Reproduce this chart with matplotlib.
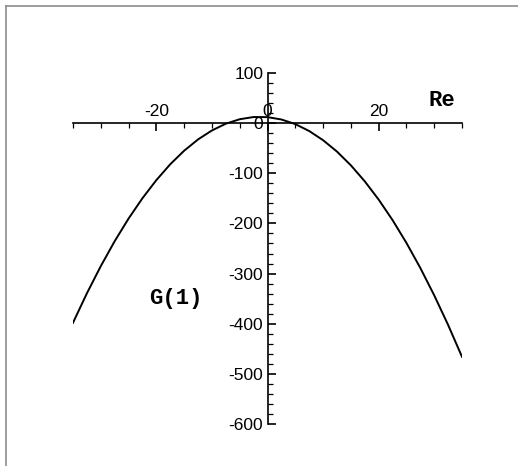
import matplotlib.pyplot as plt
from matplotlib.lines import Line2D
from matplotlib.ticker import MultipleLocator

# G(1) against Re, sampled every 2.5
re = [-35, -32.5, -30, -27.5, -25, -22.5, -20, -17.5, -15, -12.5, -10, -7.5, -5, -2.5,
      0, 2.5, 5, 7.5, 10, 12.5, 15, 17.5, 20, 22.5, 25, 27.5, 30, 32.5, 35]
g1 = [-398.1, -339.4, -285.2, -235.4, -190.3, -149.7, -113.6, -82.0, -55.0, -32.5,
      -14.6, -1.1, 7.8, 12.2, 12.0, 7.3, -1.9, -15.7, -34.0, -56.7, -84.1, -116.0,
      -152.4, -193.3, -238.8, -288.8, -343.4, -402.4, -466.0]

x_ticks = [-20, 0, 20]
y_ticks = [100, 0, -100, -200, -300, -400, -500, -600]

W, H = 518, 466
fig = plt.figure(figsize=(W / 100, H / 100), dpi=100)
ax = fig.add_axes([73 / W, (H - 424) / H, 389 / W, 351 / H])

ax.plot(re, g1, color='black', lw=1.4)
ax.set_xlim(-35, 35)
ax.set_ylim(-600, 100)

# axes cross at the origin
ax.spines['bottom'].set_visible(False)
ax.spines['right'].set_visible(False)
ax.spines['top'].set_position(('data', 0))
ax.spines['left'].set_position(('data', 0))
for s in ('top', 'left'):
    ax.spines[s].set_linewidth(1.2)

ax.xaxis.set_ticks_position('top')
ax.set_xticks(x_ticks)
ax.set_xticklabels([str(v) for v in x_ticks])
ax.xaxis.set_minor_locator(MultipleLocator(5))
ax.set_yticks(y_ticks)
ax.set_yticklabels([str(v) for v in y_ticks])
ax.yaxis.set_minor_locator(MultipleLocator(20))

ax.tick_params(axis='both', which='major', direction='in', length=6, width=1.2,
               labelsize=12.5, pad=3)
ax.tick_params(axis='both', which='minor', direction='in', length=3.5, width=0.9)
for lab in ax.get_xticklabels() + ax.get_yticklabels():
    lab.set_fontfamily('Liberation Sans')

ax.text(31.4, 46, 'Re', fontfamily='Liberation Mono', fontweight='bold',
        fontsize=16, ha='center', va='center')
ax.text(-16.4, -350, 'G(1)', fontfamily='Liberation Mono', fontweight='bold',
        fontsize=16, ha='center', va='center')
ax.patch.set_visible(False)

# thin grey frame on the left and top
fig.add_artist(Line2D([5.5 / W, 5.5 / W], [0, 1 - 6 / H], color='#8c8c8c', lw=1.2,
                      transform=fig.transFigure))
fig.add_artist(Line2D([5.5 / W, 1], [1 - 6 / H, 1 - 6 / H], color='#8c8c8c', lw=1.2,
                      transform=fig.transFigure))

fig.savefig('out.png', dpi=100)
